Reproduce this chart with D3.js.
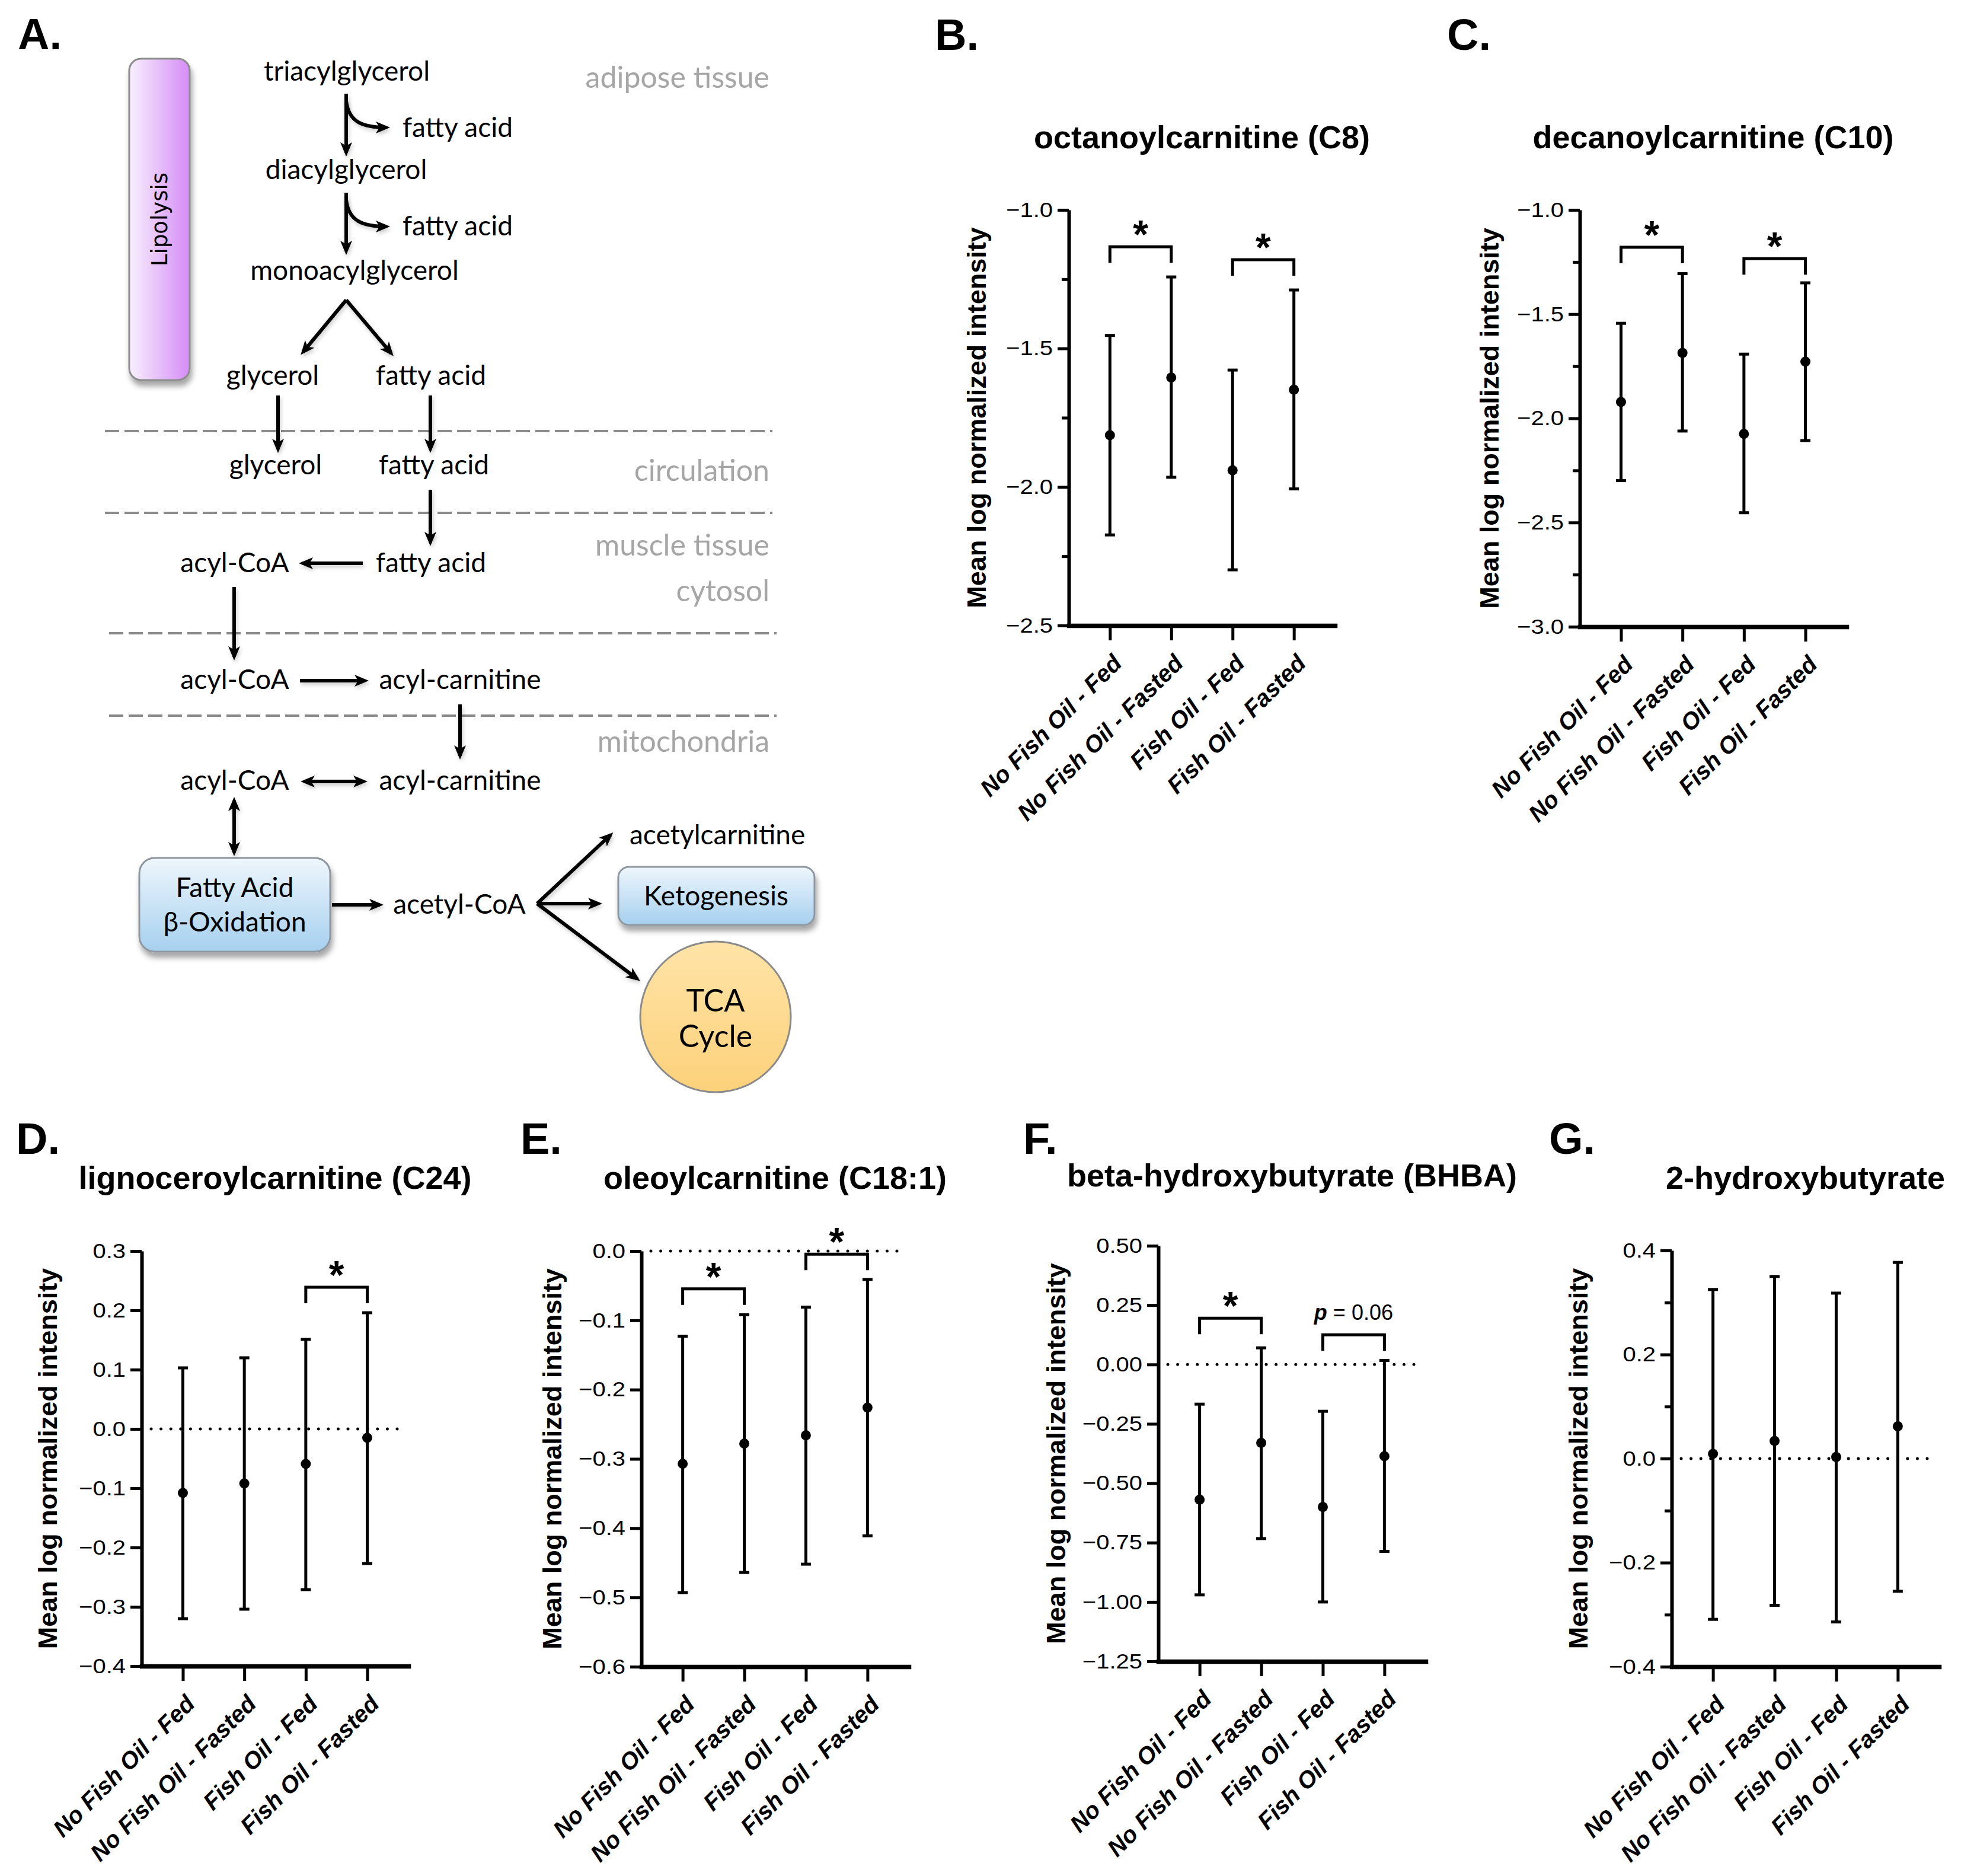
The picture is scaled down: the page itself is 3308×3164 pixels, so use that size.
<!DOCTYPE html>
<html>
<head>
<meta charset="utf-8">
<script src="https://cdn.jsdelivr.net/npm/d3@7"></script>
<style>
  body { margin: 0; background: #fff; }
  svg { display: block; }
  .letter { font: bold 74px "Liberation Sans", Arial, sans-serif; }
  .title { font: bold 54px "Liberation Sans", Arial, sans-serif; text-anchor: middle; }
  .ylab { font: bold 45px "Liberation Sans", Arial, sans-serif; text-anchor: middle; }
  .yaxis text { font: 40px "Liberation Sans", Arial, sans-serif; }
  .xaxis text { font: italic bold 40px "Liberation Sans", Arial, sans-serif; }
  .yaxis .domain { stroke-width: 6; }
  .xaxis .domain { stroke-width: 7.5; stroke-linecap: square; }
  .tick line { stroke-width: 5; }
  .bar, .cap { stroke: #000; stroke-width: 5; }
  .bracket { fill: none; stroke: #000; stroke-width: 5; }
  .zero { stroke: #000; stroke-width: 5; stroke-linecap: round; stroke-dasharray: 0 16.6; }
  .star { font: bold 66px "Liberation Sans", Arial, sans-serif; text-anchor: middle; }
  .pval { font: 36px "Liberation Sans", Arial, sans-serif; text-anchor: middle; }
  .node { font: 46px Lato, "Open Sans", sans-serif; fill: #000; }
  .comp { font: 50px Lato, "Open Sans", sans-serif; fill: #a6a6a6; text-anchor: end; }
  .arrow { fill: none; stroke: #000; stroke-width: 6; }
  .sep { stroke: #8a8a8a; stroke-width: 4; stroke-dasharray: 24 9; }
</style>
</head>
<body>
<svg id="fig" width="3308" height="3164"></svg>
<script>
// ---- data ----
const groups = ["No Fish Oil - Fed", "No Fish Oil - Fasted", "Fish Oil - Fed", "Fish Oil - Fasted"];

// B. octanoylcarnitine (C8)
const c8Mean = [-1.813, -1.605, -1.940, -1.649];
const c8Low = [-2.173, -1.965, -2.299, -2.007];
const c8High = [-1.453, -1.242, -1.578, -1.289];
const c8Ticks = [-2.5, -2.0, -1.5, -1.0];
const c8Minor = [-2.25, -1.75, -1.25];
const c8Sig = [[0, 1, -1.133, "*"], [2, 3, -1.180, "*"]];

// C. decanoylcarnitine (C10)
const c10Mean = [-1.922, -1.686, -2.075, -1.728];
const c10Low = [-2.299, -2.061, -2.453, -2.107];
const c10High = [-1.544, -1.306, -1.692, -1.350];
const c10Ticks = [-3.0, -2.5, -2.0, -1.5, -1.0];
const c10Minor = [-2.75, -2.25, -1.75, -1.25];
const c10Sig = [[0, 1, -1.179, "*"], [2, 3, -1.234, "*"]];

// D. lignoceroylcarnitine (C24)
const c24Mean = [-0.108, -0.092, -0.059, -0.015];
const c24Low = [-0.320, -0.304, -0.271, -0.227];
const c24High = [0.103, 0.120, 0.151, 0.196];
const c24Ticks = [-0.4, -0.3, -0.2, -0.1, 0.0, 0.1, 0.2, 0.3];
const c24Sig = [[2, 3, 0.239, "*"]];

// E. oleoylcarnitine (C18:1)
const c181Mean = [-0.307, -0.278, -0.266, -0.226];
const c181Low = [-0.493, -0.464, -0.452, -0.411];
const c181High = [-0.123, -0.092, -0.081, -0.041];
const c181Ticks = [-0.6, -0.5, -0.4, -0.3, -0.2, -0.1, 0.0];
const c181Sig = [[0, 1, -0.0545, "*"], [2, 3, -0.0044, "*"]];

// F. beta-hydroxybutyrate (BHBA)
const bhbaMean = [-0.569, -0.330, -0.600, -0.386];
const bhbaLow = [-0.970, -0.733, -1.000, -0.787];
const bhbaHigh = [-0.167, 0.070, -0.197, 0.017];
const bhbaTicks = [-1.25, -1.00, -0.75, -0.50, -0.25, 0.00, 0.25, 0.50];
const bhbaSig = [[0, 1, 0.195, "*"], [2, 3, 0.125, "p = 0.06"]];

// G. 2-hydroxybutyrate
const hbMean = [0.009, 0.034, 0.003, 0.062];
const hbLow = [-0.309, -0.282, -0.314, -0.255];
const hbHigh = [0.325, 0.350, 0.318, 0.377];
const hbTicks = [-0.4, -0.2, 0.0, 0.2, 0.4];
const hbMinor = [-0.3, -0.1, 0.1, 0.3];

const svg = d3.select("#fig");

// ---- panels B-G ----
const panels = [
  { letter: "B.", title: "octanoylcarnitine (C8)", mean: c8Mean, low: c8Low, high: c8High,
    ticks: c8Ticks, minor: c8Minor, sig: c8Sig, fmt: ".1f", zero: false,
    x0: 1803, x1: 2252, top: 354, bottom: 1055, labelDx: -140, letterX: 1577, letterY: 84, titleY: 250 },
  { letter: "C.", title: "decanoylcarnitine (C10)", mean: c10Mean, low: c10Low, high: c10High,
    ticks: c10Ticks, minor: c10Minor, sig: c10Sig, fmt: ".1f", zero: false,
    x0: 2665, x1: 3115, top: 354, bottom: 1057, labelDx: -137, letterX: 2441, letterY: 84, titleY: 250 },
  { letter: "D.", title: "lignoceroylcarnitine (C24)", mean: c24Mean, low: c24Low, high: c24High,
    ticks: c24Ticks, minor: [], sig: c24Sig, fmt: ".1f", zero: true,
    x0: 239, x1: 689, top: 2110, bottom: 2810, labelDx: -143, letterX: 27, letterY: 1946, titleY: 2005 },
  { letter: "E.", title: "oleoylcarnitine (C18:1)", mean: c181Mean, low: c181Low, high: c181High,
    ticks: c181Ticks, minor: [], sig: c181Sig, fmt: ".1f", zero: true,
    x0: 1082, x1: 1533, top: 2110, bottom: 2811, labelDx: -135, letterX: 878, letterY: 1946, titleY: 2005 },
  { letter: "F.", title: "beta-hydroxybutyrate (BHBA)", mean: bhbaMean, low: bhbaLow, high: bhbaHigh,
    ticks: bhbaTicks, minor: [], sig: bhbaSig, fmt: ".2f", zero: true,
    x0: 1954, x1: 2405, top: 2101, bottom: 2802, labelDx: -157, letterX: 1726, letterY: 1946, titleY: 2001 },
  { letter: "G.", title: "2-hydroxybutyrate", mean: hbMean, low: hbLow, high: hbHigh,
    ticks: hbTicks, minor: hbMinor, sig: [], fmt: ".1f", zero: true,
    x0: 2820, x1: 3271, top: 2109, bottom: 2811, labelDx: -142, letterX: 2613, letterY: 1946, titleY: 2005 }
];

function drawPanel(p) {
  const g = svg.append("g");
  const x = d3.scalePoint().domain(groups).range([p.x0, p.x1]).padding(0.67);
  const y = d3.scaleLinear()
    .domain([p.ticks[0], p.ticks[p.ticks.length - 1]])
    .range([p.bottom, p.top]);

  g.append("text").attr("class", "letter").attr("x", p.letterX).attr("y", p.letterY).text(p.letter);
  g.append("text").attr("class", "title").attr("x", (p.x0 + p.x1) / 2).attr("y", p.titleY).text(p.title);

  if (p.zero) {
    g.append("line").attr("class", "zero")
      .attr("x1", p.x0 + 16).attr("x2", p.x1 - 16)
      .attr("y1", y(0)).attr("y2", y(0));
  }

  if (p.minor.length) {
    g.append("g").attr("class", "yaxis").attr("transform", `translate(${p.x0},0)`)
      .call(d3.axisLeft(y).tickValues(p.minor).tickSize(12).tickFormat(""))
      .call(s => s.select(".domain").remove());
  }

  const ya = g.append("g").attr("class", "yaxis").attr("transform", `translate(${p.x0},0)`)
    .call(d3.axisLeft(y).tickValues(p.ticks).tickFormat(d3.format(p.fmt))
      .tickSize(19).tickPadding(8).tickSizeOuter(0));
  ya.selectAll("text").attr("transform", "scale(1,0.88)");

  const xa = g.append("g").attr("class", "xaxis").attr("transform", `translate(0,${p.bottom})`)
    .call(d3.axisBottom(x).tickSize(25).tickSizeOuter(0));
  xa.selectAll("text")
    .attr("x", 0).attr("y", 0).attr("dy", null)
    .attr("text-anchor", "end")
    .attr("transform", "translate(22,66) rotate(-45)");

  g.append("text").attr("class", "ylab")
    .attr("transform", `translate(${p.x0 + p.labelDx},${(p.top + p.bottom) / 2}) rotate(-90)`)
    .text("Mean log normalized intensity");

  const pts = groups.map((k, i) => ({ k, m: p.mean[i], lo: p.low[i], hi: p.high[i] }));

  g.selectAll(".bar").data(pts).join("line").attr("class", "bar")
    .attr("x1", d => x(d.k)).attr("x2", d => x(d.k))
    .attr("y1", d => y(d.lo)).attr("y2", d => y(d.hi));

  g.selectAll(".cap").data(pts.flatMap(d => [{ k: d.k, v: d.lo }, { k: d.k, v: d.hi }]))
    .join("line").attr("class", "cap")
    .attr("x1", d => x(d.k) - 8.5).attr("x2", d => x(d.k) + 8.5)
    .attr("y1", d => y(d.v)).attr("y2", d => y(d.v));

  g.selectAll(".dot").data(pts).join("circle").attr("class", "dot")
    .attr("cx", d => x(d.k)).attr("cy", d => y(d.m)).attr("r", 8.5);

  p.sig.forEach(([a, b, v, lab]) => {
    const xa1 = x(groups[a]), xb1 = x(groups[b]), yy = y(v);
    g.append("path").attr("class", "bracket")
      .attr("d", `M${xa1},${yy + 27}V${yy}H${xb1}V${yy + 27}`);
    if (lab === "*") {
      g.append("text").attr("class", "star").attr("x", (xa1 + xb1) / 2).attr("y", yy + 2).text("*");
    } else {
      const t = g.append("text").attr("class", "pval").attr("x", (xa1 + xb1) / 2).attr("y", yy - 25);
      t.append("tspan").attr("font-style", "italic").attr("font-weight", "bold").text(lab.slice(0, 1));
      t.append("tspan").text(lab.slice(1));
    }
  });
}

panels.forEach(drawPanel);

// ---- panel A: pathway diagram ----
const defs = svg.append("defs");
defs.append("marker").attr("id", "ah")
  .attr("viewBox", "0 0 12 10").attr("refX", 9).attr("refY", 5)
  .attr("markerWidth", 24).attr("markerHeight", 20)
  .attr("markerUnits", "userSpaceOnUse").attr("orient", "auto-start-reverse")
  .append("path").attr("d", "M0,0 L12,5 L0,10 L3,5 Z").attr("fill", "#000");

const shadow = defs.append("filter").attr("id", "shadow")
  .attr("x", "-20%").attr("y", "-20%").attr("width", "140%").attr("height", "140%");
shadow.append("feDropShadow").attr("dx", 3).attr("dy", 9).attr("stdDeviation", 5)
  .attr("flood-color", "#000").attr("flood-opacity", 0.35);

// user-space region so straight lines (zero-size bbox) still render
const lineShadow = defs.append("filter").attr("id", "lshadow")
  .attr("filterUnits", "userSpaceOnUse")
  .attr("x", 0).attr("y", 0).attr("width", 3308).attr("height", 3164);
lineShadow.append("feDropShadow").attr("dx", 2).attr("dy", 4).attr("stdDeviation", 3)
  .attr("flood-color", "#000").attr("flood-opacity", 0.2);

const lipoGrad = defs.append("linearGradient").attr("id", "lipo").attr("x1", 0).attr("x2", 1).attr("y1", 0).attr("y2", 0);
lipoGrad.append("stop").attr("offset", "0%").attr("stop-color", "#f8f0fd");
lipoGrad.append("stop").attr("offset", "100%").attr("stop-color", "#d58cf6");

const boxGrad = defs.append("linearGradient").attr("id", "boxg").attr("x1", 0).attr("x2", 0).attr("y1", 0).attr("y2", 1);
boxGrad.append("stop").attr("offset", "0%").attr("stop-color", "#eef6fc");
boxGrad.append("stop").attr("offset", "100%").attr("stop-color", "#a6d0ef");

const tcaGrad = defs.append("linearGradient").attr("id", "tcag").attr("x1", 0).attr("x2", 0).attr("y1", 0).attr("y2", 1);
tcaGrad.append("stop").attr("offset", "0%").attr("stop-color", "#ffe4a8");
tcaGrad.append("stop").attr("offset", "100%").attr("stop-color", "#fcd17a");

const A = svg.append("g");
A.append("text").attr("class", "letter").attr("x", 30).attr("y", 83).text("A.");

// separators between compartments
[[727, 177, 1303], [865, 177, 1303], [1068, 184, 1310], [1207, 184, 1310]].forEach(([yy, xa1, xb1]) => {
  A.append("line").attr("class", "sep").attr("x1", xa1).attr("x2", xb1).attr("y1", yy).attr("y2", yy);
});

[["adipose tissue", 148], ["circulation", 811], ["muscle tissue", 937], ["cytosol", 1014], ["mitochondria", 1268]]
  .forEach(([t, yy]) => A.append("text").attr("class", "comp").attr("x", 1298).attr("y", yy).text(t));

// lipolysis bar
A.append("rect").attr("x", 218).attr("y", 99).attr("width", 102).attr("height", 542).attr("rx", 20)
  .attr("fill", "url(#lipo)").attr("stroke", "#8c8c8c").attr("stroke-width", 3).attr("filter", "url(#shadow)");
A.append("text").attr("transform", "translate(282,370) rotate(-90)")
  .attr("text-anchor", "middle").style("font", '37px "DejaVu Sans", sans-serif').text("Lipolysis");

// boxes
A.append("rect").attr("x", 235).attr("y", 1447).attr("width", 322).attr("height", 158).attr("rx", 26)
  .attr("fill", "url(#boxg)").attr("stroke", "#8e979f").attr("stroke-width", 3).attr("filter", "url(#shadow)");
A.append("rect").attr("x", 1043).attr("y", 1462).attr("width", 331).attr("height", 98).attr("rx", 18)
  .attr("fill", "url(#boxg)").attr("stroke", "#8e979f").attr("stroke-width", 3).attr("filter", "url(#shadow)");
A.append("ellipse").attr("cx", 1207).attr("cy", 1715).attr("rx", 127).attr("ry", 127)
  .attr("fill", "url(#tcag)").attr("stroke", "#8a8a8a").attr("stroke-width", 3);

const nodes = [
  ["triacylglycerol", 585, 136, "middle"],
  ["fatty acid", 679, 231, "start"],
  ["diacylglycerol", 584, 302, "middle"],
  ["fatty acid", 679, 397, "start"],
  ["monoacylglycerol", 598, 472, "middle"],
  ["glycerol", 460, 649, "middle"],
  ["fatty acid", 727, 649, "middle"],
  ["glycerol", 465, 800, "middle"],
  ["fatty acid", 732, 800, "middle"],
  ["acyl-CoA", 396, 965, "middle"],
  ["fatty acid", 727, 965, "middle"],
  ["acyl-CoA", 396, 1162, "middle"],
  ["acyl-carnitine", 776, 1162, "middle"],
  ["acyl-CoA", 396, 1332, "middle"],
  ["acyl-carnitine", 776, 1332, "middle"],
  ["acetylcarnitine", 1062, 1424, "start"],
  ["acetyl-CoA", 775, 1541, "middle"],
  ["Fatty Acid", 396, 1513, "middle"],
  ["β-Oxidation", 396, 1571, "middle"],
  ["Ketogenesis", 1208, 1527, "middle"]
];
nodes.forEach(([t, xx, yy, anc]) => {
  A.append("text").attr("class", "node").attr("x", xx).attr("y", yy).attr("text-anchor", anc).text(t);
});
A.append("text").attr("class", "node").attr("x", 1207).attr("y", 1706).attr("text-anchor", "middle")
  .style("font-size", "52px").text("TCA");
A.append("text").attr("class", "node").attr("x", 1207).attr("y", 1766).attr("text-anchor", "middle")
  .style("font-size", "52px").text("Cycle");

// arrows: [path, double-headed]
const arrows = [
  ["M584,158 V258", false],
  ["M584,170 C588,205 610,215 652,215", false],
  ["M584,325 V424", false],
  ["M584,337 C588,372 610,382 652,382", false],
  ["M584,506 L511,594", false],
  ["M584,506 L660,596", false],
  ["M469,667 V758", false],
  ["M726,667 V758", false],
  ["M726,826 V915", false],
  ["M612,950 H510", false],
  ["M395,990 V1108", false],
  ["M506,1148 H616", false],
  ["M776,1188 V1275", false],
  ["M513,1318 H614", true],
  ["M395,1350 V1438", true],
  ["M560,1526 H641", false],
  ["M906,1524 L1030,1408", false],
  ["M906,1524 H1010", false],
  ["M906,1524 L1075,1651", false]
];
arrows.forEach(([d, both]) => {
  const a = A.append("path").attr("class", "arrow").attr("d", d)
    .attr("marker-end", "url(#ah)").attr("filter", "url(#lshadow)");
  if (both) a.attr("marker-start", "url(#ah)");
});
</script>
</body>
</html>
